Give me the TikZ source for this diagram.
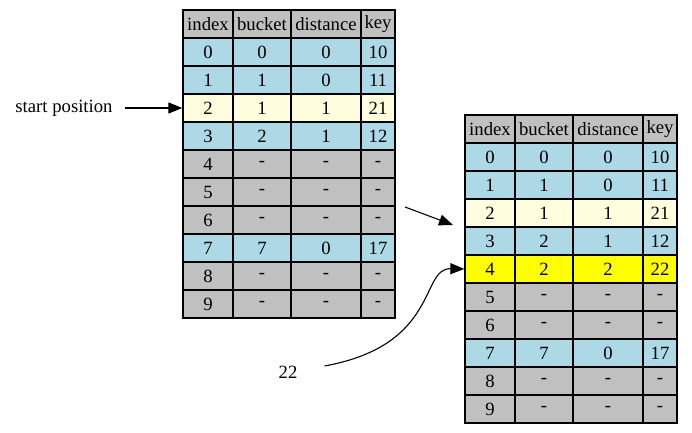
\documentclass[tikz,border=0pt]{standalone}
\usepackage{fontspec}
\setmainfont{Liberation Serif}
\usetikzlibrary{arrows.meta}
\definecolor{SlotBlue}{HTML}{ADD8E6}
\definecolor{SlotCream}{HTML}{FFFFE0}
\definecolor{SlotGrey}{HTML}{C0C0C0}
\definecolor{SlotYellow}{HTML}{FFFF00}

\begin{document}
\begin{tikzpicture}[x=1bp,y=-1bp,>={Triangle[length=14bp,width=11bp]},
 cell/.style={draw=black,line width=1.3bp,inner sep=0pt,minimum height=28bp,font=\fontsize{18.7bp}{22bp}\selectfont},
 colA/.style={cell,minimum width=50bp},
 colB/.style={cell,minimum width=58bp},
 colC/.style={cell,minimum width=70bp},
 colD/.style={cell,minimum width=34bp},
 note/.style={font=\fontsize{18.7bp}{22bp}\selectfont,inner sep=0pt},
 link/.style={->,line width=1.1bp}]
\useasboundingbox (0,0) rectangle (692,433);
% left table, before the insert
\node[colA,fill=SlotGrey] (Lh-0) at (208,24) {index};
\node[colB,fill=SlotGrey] (Lh-1) at (262,24) {bucket};
\node[colC,fill=SlotGrey] (Lh-2) at (326,24) {distance};
\node[colD,fill=SlotGrey] (Lh-3) at (378,24) {key};
\foreach \r/\b/\d/\k/\s in {0/0/0/10/SlotBlue,1/1/0/11/SlotBlue,2/1/1/21/SlotCream,3/2/1/12/SlotBlue,
  4/-/-/-/SlotGrey,5/-/-/-/SlotGrey,6/-/-/-/SlotGrey,7/7/0/17/SlotBlue,8/-/-/-/SlotGrey,9/-/-/-/SlotGrey} {
  \node[colA,fill=\s] (L\r-0) at (208,{52+28*\r}) {\r};
  \node[colB,fill=\s] (L\r-1) at (262,{52+28*\r}) {\b};
  \node[colC,fill=\s] (L\r-2) at (326,{52+28*\r}) {\d};
  \node[colD,fill=\s] (L\r-3) at (378,{52+28*\r}) {\k};
}
% right table, after the insert
\node[colA,fill=SlotGrey] (Rh-0) at (490,129) {index};
\node[colB,fill=SlotGrey] (Rh-1) at (544,129) {bucket};
\node[colC,fill=SlotGrey] (Rh-2) at (608,129) {distance};
\node[colD,fill=SlotGrey] (Rh-3) at (660,129) {key};
\foreach \r/\b/\d/\k/\s in {0/0/0/10/SlotBlue,1/1/0/11/SlotBlue,2/1/1/21/SlotCream,3/2/1/12/SlotBlue,
  4/2/2/22/SlotYellow,5/-/-/-/SlotGrey,6/-/-/-/SlotGrey,7/7/0/17/SlotBlue,8/-/-/-/SlotGrey,9/-/-/-/SlotGrey} {
  \node[colA,fill=\s] (R\r-0) at (490,{157+28*\r}) {\r};
  \node[colB,fill=\s] (R\r-1) at (544,{157+28*\r}) {\b};
  \node[colC,fill=\s] (R\r-2) at (608,{157+28*\r}) {\d};
  \node[colD,fill=\s] (R\r-3) at (660,{157+28*\r}) {\k};
}
\node[note,inner xsep=12bp] (startlbl) at (64,108) {start position};
\node[note] (newkey) at (288,372) {22};
\coordinate (hopfrom) at (405,207);
\coordinate (hopto) at (453,225);
\draw[link] (startlbl) -- (L2-0.west);
\draw[link] (hopfrom) -- (hopto);
\draw[link] ([xshift=27bp,yshift=6bp]newkey.east) .. controls (440,345) and (420,268) .. (R4-0.west);
\end{tikzpicture}
\end{document}
